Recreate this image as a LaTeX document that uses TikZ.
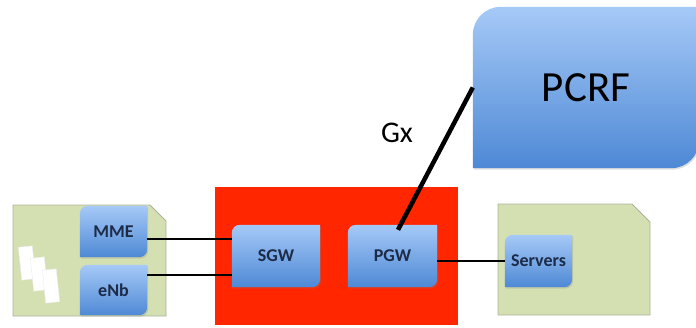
\documentclass[tikz,border=0pt]{standalone}
\usepackage{fontspec}
\setmainfont{Carlito}
\usetikzlibrary{backgrounds,shadows}
\definecolor{boxtop}{HTML}{A6C9F7}
\definecolor{boxbottom}{HTML}{4E89D5}
\definecolor{netgreen}{HTML}{D4E0B2}
\definecolor{netedge}{HTML}{AAB49C}
\definecolor{corered}{HTML}{FF2600}
\definecolor{labelnavy}{HTML}{1C2B48}
\pgfdeclarelayer{back}
\pgfsetlayers{back,background,main}
%% box with round top-left and bottom-right corners
\newcommand{\gwshape}[2]{%
  \shade[gwfill] (#1.south west) -- ([yshift=-#2]#1.north west)
    arc[start angle=180,end angle=90,radius=#2] -- (#1.north east)
    -- ([yshift=#2]#1.south east) arc[start angle=0,end angle=-90,radius=#2] -- cycle;}
\begin{document}
\begin{tikzpicture}[x=1pt,y=1pt,
    gw/.style={inner sep=0pt, font=\bfseries\fontsize{18}{20}\selectfont, text=labelnavy},
    gwfill/.style={top color=boxtop, bottom color=boxbottom,
      drop shadow={opacity=0.25, shadow xshift=1pt, shadow yshift=-1.5pt}},
    net/.style={fill=netgreen, draw=netedge, line width=0.8pt},
    link/.style={line width=1.3pt}]
    \useasboundingbox (0,0) rectangle (696,327);
    %% networks
    \begin{pgfonlayer}{back}
        \fill[corered] (215,2) rectangle (458,140);
        \draw[net] (13,11) -- (13,122) -- (150,122) -- (166,106) -- (166,11) -- cycle;
        \draw[net] (498,12) -- (498,123) -- (632,123) -- (650,105) -- (650,12) -- cycle;
        %% handsets
        \foreach \x/\y in {27/64, 39/53, 51/41}
            \filldraw[white, draw=gray!15, rotate around={6:(\x,\y)}] (\x-7,\y-16.5) rectangle (\x+7,\y+16.5);
    \end{pgfonlayer}
    %% gateways
    \node[gw, minimum width=67pt, minimum height=51pt] (mme) at (113.5,95.5) {MME};
    \node[gw, minimum width=67pt, minimum height=50pt] (enb) at (113.5,37) {eNb};
    \node[gw, minimum width=88pt, minimum height=62pt] (sgw) at (276,71) {SGW};
    \node[gw, minimum width=89pt, minimum height=62pt] (pgw) at (392.5,71) {PGW};
    \node[gw, minimum width=67pt, minimum height=52pt] (servers) at (538.5,66) {Servers};
    \node[inner sep=0pt, minimum width=226pt, minimum height=161pt, font=\fontsize{43}{50}\selectfont] (pcrf) at (586,239.5) {PCRF};
    \begin{pgfonlayer}{background}
        \foreach \n in {mme,enb,sgw,pgw,servers} \gwshape{\n}{8pt};
        \gwshape{pcrf}{28pt}
    \end{pgfonlayer}
    %% links
    \draw[link] ([yshift=-7.5pt]mme.east) -- ([yshift=-7.5pt]mme.east -| sgw.west);
    \draw[link] ([yshift=15pt]enb.east) -- ([yshift=15pt]enb.east -| sgw.west);
    \draw[link] (pgw.east |- servers.west) -- (servers.west);
    \draw[line width=4.5pt] ([xshift=5.5pt,yshift=-5pt]pgw.north) -- (pcrf.west);
    \node[font=\fontsize{30}{34}\selectfont] (gx) at (397,194) {Gx};
\end{tikzpicture}
\end{document}
